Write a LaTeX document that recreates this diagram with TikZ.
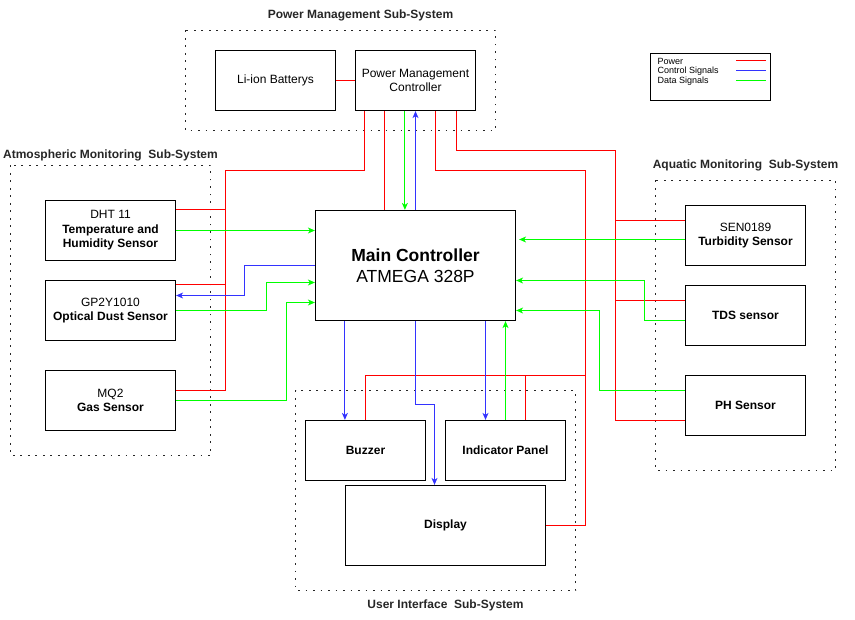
\documentclass[tikz,border=0pt]{standalone}
\usepackage{fontspec}
\setmainfont{Liberation Sans}
\usetikzlibrary{arrows.meta,calc}
\definecolor{pwr}{HTML}{FF0000}
\definecolor{ctl}{HTML}{3333FF}
\definecolor{dat}{HTML}{00FF00}
\begin{document}
\begin{tikzpicture}[x=1pt,y=-1pt,
 box/.style={draw,line width=1.2pt,fill=white,minimum width=120pt,minimum height=60pt,align=center,inner sep=2pt,font=\fontsize{12}{14.5}\selectfont},
 grp/.style={line width=1.8pt,dash pattern=on 1.8pt off 5.7pt,draw=black!85},
 ttl/.style={font=\fontsize{12}{14}\selectfont\bfseries,text=black!85,inner sep=0pt},
 lg/.style={font=\fontsize{9}{10}\selectfont,inner sep=0pt,anchor=west},
 pw/.style={draw=pwr,line width=1.1pt},
 ct/.style={draw=ctl,line width=1.1pt,-{Stealth[length=7pt,width=6pt,inset=2pt]}},
 dt/.style={draw=dat,line width=1.1pt,-{Stealth[length=7pt,width=6pt,inset=2pt]}},
]
\useasboundingbox (0,0) rectangle (855,620);
\begin{scope}[shift={(0.5,0.5)}]
% group frames
\draw[grp] (185,30) rectangle (495,130);
\draw[grp] (10,165) rectangle (210,455);
\draw[grp] (655,180) rectangle (835,470);
\draw[grp] (295,390) rectangle (575,590);
% titles
\node[ttl] (tpm) at (360,15) {Power Management Sub-System};
\node[ttl] (tat) at (110,155) {Atmospheric Monitoring\ \ Sub-System};
\node[ttl] (taq) at (745,165) {Aquatic Monitoring\ \ Sub-System};
\node[ttl] (tui) at (445,605) {User Interface\ \ Sub-System};
% nodes
\node[box] (li) at (275,80) {Li-ion Batterys};
\node[box] (pmc) at (415,80) {Power Management\\Controller};
\node[box,minimum width=200pt,minimum height=110pt,font=\fontsize{17.5}{21.5}\selectfont] (mc) at (415,265) {\textbf{Main Controller}\\ATMEGA 328P};
\node[box,minimum width=130pt] (dht) at (110,230) {DHT 11\\\textbf{Temperature and}\\\textbf{Humidity Sensor}};
\node[box,minimum width=130pt] (gp) at (110,310) {GP2Y1010\\\textbf{Optical Dust Sensor}};
\node[box,minimum width=130pt] (mq) at (110,400) {MQ2\\\textbf{Gas Sensor}};
\node[box] (sen) at (745,235) {SEN0189\\\textbf{Turbidity Sensor}};
\node[box] (tds) at (745,315) {\textbf{TDS sensor}};
\node[box] (ph) at (745,405) {\textbf{PH Sensor}};
\node[box] (buz) at (365,450) {\textbf{Buzzer}};
\node[box] (ind) at (505,450) {\textbf{Indicator Panel}};
\node[box,minimum width=200pt,minimum height=80pt] (disp) at (445,525) {\textbf{Display}};
% legend
\node[draw,line width=1.2pt,minimum width=120pt,minimum height=47pt] (leg) at (710,76.5) {};
\node[lg] (l1) at (657,61) {Power};
\node[lg] (l2) at (657,71) {Control Signals};
\node[lg] (l3) at (657,81) {Data Signals};
\draw[pw] ($(leg.north east)+(-35,8)$) -- ++(30,0);
\draw[draw=ctl,line width=1.1pt] ($(leg.north east)+(-35,18)$) -- ++(30,0);
\draw[draw=dat,line width=1.1pt] ($(leg.north east)+(-35,28)$) -- ++(30,0);
% power lines
\coordinate (ra) at (225,170);
\coordinate (rb) at (585,170);
\coordinate (rc) at (615,150);
\coordinate (rd) at (585,375);
\draw[pw] (li.east) -- (pmc.west);
\draw[pw] ($(pmc.south west)+(10,0)$) |- (ra) |- ($(mq.east)+(0,-10)$);
\draw[pw] ($(dht.north east)+(0,10)$) -- (ra |- {$(dht.north east)+(0,10)$});
\draw[pw] ($(gp.north east)+(0,5)$) -- (ra |- {$(gp.north east)+(0,5)$});
\draw[pw] ($(pmc.south west)+(30,0)$) -- ($(mc.north west)+(70,0)$);
\draw[pw] ($(pmc.south)+(20,0)$) |- (rb) |- (disp.east);
\draw[pw] (buz.north) |- (rd);
\draw[pw] ($(ind.north)+(20,0)$) -- ($(ind.north)+(20,-45)$);
\draw[pw] ($(pmc.south east)+(-20,0)$) |- (rc) |- ($(ph.west)+(0,15)$);
\draw[pw] ($(sen.west)+(0,-15)$) -- (rc |- {$(sen.west)+(0,-15)$});
\draw[pw] ($(tds.west)+(0,-15)$) -- (rc |- {$(tds.west)+(0,-15)$});
% PMC <-> MC
\draw[dt] ($(pmc.south west)+(50,0)$) -- ($(mc.north west)+(90,0)$);
\draw[ct] (mc.north) -- (pmc.south);
% atmospheric
\draw[dt] (dht.east) -- (dht.east -| mc.west);
\draw[dt] (gp.east) -- ++(90,0) |- ($(mc.west)+(0,17)$);
\draw[dt] (mq.east) -- ++(110,0) |- ($(mc.west)+(0,37)$);
\draw[ct] (mc.west) -- ++(-70,0) |- ($(gp.east)+(0,-15)$);
% aquatic
\draw[dt] ($(sen.west)+(0,4)$) -- ($(mc.east)+(3,-26)$);
\draw[dt] ($(tds.west)+(0,5)$) -- ++(-40,0) |- ($(mc.east)+(0,15)$);
\draw[dt] ($(ph.west)+(0,-15)$) -- ++(-85,0) |- ($(mc.east)+(0,45)$);
% user interface
\draw[ct] ($(mc.south west)+(30,0)$) -- ($(buz.north west)+(40,0)$);
\draw[ct] (mc.south) -- ++(0,83) -| ($(disp.north)+(-11,0)$);
\draw[ct] ($(mc.south)+(70,0)$) -- ($(ind.north)+(-20,0)$);
\draw[dt] (ind.north) -- ($(mc.south)+(90,0)$);
\end{scope}
\end{tikzpicture}
\end{document}
